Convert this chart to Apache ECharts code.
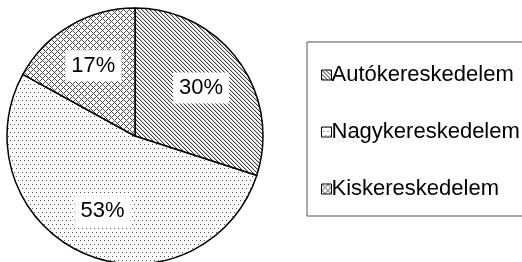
<!DOCTYPE html>
<html>
<head>
<meta charset="utf-8">
<script src="https://cdn.jsdelivr.net/npm/echarts@6/dist/echarts.min.js"></script>
<style>
html,body{margin:0;padding:0;background:#fff;}
#c{width:522px;height:262px;}
</style>
</head>
<body>
<div id="c"></div>
<script>
const categories = ['Autókereskedelem', 'Nagykereskedelem', 'Kiskereskedelem'];
const values = [30, 53, 17];

function makePattern(size, draw) {
  const cv = document.createElement('canvas');
  cv.width = size; cv.height = size;
  const ctx = cv.getContext('2d');
  ctx.fillStyle = '#fff';
  ctx.fillRect(0, 0, size, size);
  draw(ctx, size);
  return { image: cv, repeat: 'repeat' };
}
// diagonal "\" hatching
const patAuto = makePattern(4, (ctx, s) => {
  for (let y = 0; y < s; y++) {
    ctx.fillStyle = '#3a3a3a';
    ctx.fillRect(y % s, y, 1, 1);
    ctx.fillStyle = '#d0d0d0';
    ctx.fillRect((y + 1) % s, y, 1, 1);
  }
});
// sparse staggered dots
const patNagy = makePattern(8, (ctx, s) => {
  ctx.fillStyle = '#555';
  [[0,0],[4,0],[2,4],[6,4]].forEach(p => ctx.fillRect(p[0], p[1], 1, 1));
});
// diamond crosshatch
const patKis = makePattern(6, (ctx, s) => {
  ctx.fillStyle = '#505050';
  for (let y = 0; y < s; y++) {
    for (let x = 0; x < s; x++) {
      if ((x - y + s) % s === 0 || (x + y) % s === 0) ctx.fillRect(x, y, 1, 1);
    }
  }
});
const patterns = [patAuto, patNagy, patKis];

const CX = 135, CY = 136;
const chart = echarts.init(document.getElementById('c'), null, {renderer: 'canvas'});
chart.setOption({
  animation: false,
  legend: {
    orient: 'vertical',
    left: 307, top: 42,
    padding: [22, 40, 16, 14],
    borderColor: '#555', borderWidth: 1,
    itemWidth: 10, itemHeight: 10, itemGap: 35,
    icon: 'rect',
    itemStyle: { borderColor: '#000', borderWidth: 1 },
    textStyle: { fontFamily: 'Liberation Sans, Arial', fontSize: 22, color: '#000', lineHeight: 20, padding: [1,0,0,-5] },
    data: categories
  },
  series: [{
    type: 'pie',
    center: [CX, CY],
    radius: 128,
    startAngle: 90,
    clockwise: true,
    emphasis: { disabled: true },
    itemStyle: { borderColor: '#000', borderWidth: 1.5 },
    label: {
      show: true,
      position: 'inside',
      formatter: '{c}%',
      fontFamily: 'Liberation Sans, Arial',
      fontSize: 22,
      color: '#000',
      backgroundColor: '#fff',
      padding: [5, 6, 4, 6]
    },
    labelLayout: function (p) {
      const r = p.labelRect;
      const lx = r.x + r.width / 2, ly = r.y + r.height / 2;
      const k = 1.22;
      return { dx: (lx - CX) * (k - 1), dy: (ly - CY) * (k - 1) };
    },
    data: categories.map((n, i) => ({ name: n, value: values[i], itemStyle: { color: patterns[i] } }))
  }]
});
</script>
</body>
</html>
